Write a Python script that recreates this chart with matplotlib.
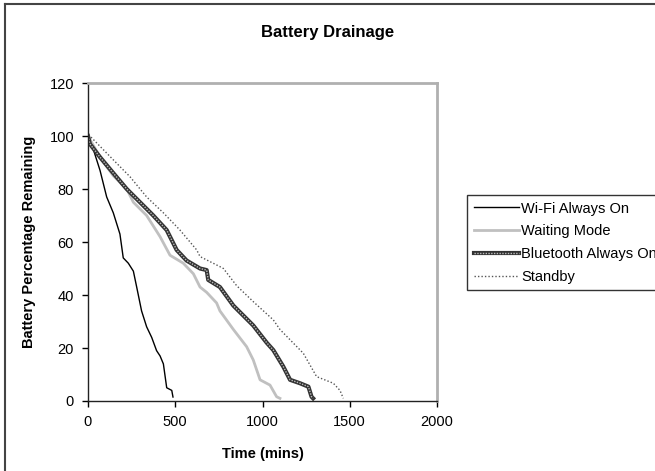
import matplotlib
matplotlib.use('Agg')
import matplotlib.pyplot as plt
from matplotlib.lines import Line2D

plt.rcParams['font.family'] = ['Liberation Sans', 'DejaVu Sans']

# time (mins) / battery %
wifi_t = [0, 11, 69, 107, 145, 183, 202, 231, 260, 279, 307, 336, 365, 393, 413, 432, 451, 480, 487]
wifi_v = [100, 99, 87, 77, 71, 63, 54, 52, 49, 43, 34, 28, 24, 19, 17, 14, 5, 4, 1.5]

wait_t = [0, 69, 145, 222, 260, 336, 413, 470, 546, 604, 642, 680, 737, 756, 833, 909, 947, 986, 1043, 1081, 1100]
wait_v = [100, 92, 85, 80, 75, 70, 62, 55, 52, 48, 43, 41, 37, 34, 27, 20.5, 15.5, 8, 6, 1.6, 1]

bt_t = [0, 11, 69, 145, 222, 298, 374, 451, 508, 565, 642, 680, 689, 756, 833, 947, 1024, 1062, 1119, 1158, 1215, 1263, 1281, 1290]
bt_v = [100, 97, 92, 86, 80, 75, 70, 64.5, 57, 53, 50, 49.4, 45.7, 43, 36, 28.5, 22, 19.2, 13, 8, 6.7, 5.4, 1.6, 1]

sb_t = [0, 11, 145, 241, 336, 432, 527, 623, 642, 756, 776, 852, 947, 1062, 1100, 1234, 1310, 1406, 1444, 1463]
sb_v = [100, 100, 91, 84.6, 77, 71, 64.5, 57, 54.5, 50.7, 50, 43.5, 37.5, 30.6, 27, 18, 9.2, 6.7, 4, 1]

fig = plt.figure(figsize=(6.55, 4.71), dpi=100)
ax = fig.add_axes([88 / 655, 1 - 401 / 471, 349 / 655, 318 / 471])

l1, = ax.plot(wifi_t, wifi_v, color='black', lw=1)
l2, = ax.plot(wait_t, wait_v, color='#c0c0c0', lw=2)
l3a, = ax.plot(bt_t, bt_v, color='#333333', lw=3)
l3b, = ax.plot(bt_t, bt_v, color='#bbbbbb', lw=1, linestyle=(0, (1, 1)))
l4, = ax.plot(sb_t, sb_v, color='#555555', lw=1, linestyle=(0, (1, 1.5)))

ax.set_xlim(0, 2000)
ax.set_ylim(0, 120)
ax.set_xticks(range(0, 2001, 500))
ax.set_yticks(range(0, 121, 20))
ax.tick_params(direction='out', length=4, width=1, labelsize=10.5, colors='black')
ax.tick_params(axis='x', pad=6)
ax.tick_params(axis='y', pad=6)
for s in ['left', 'bottom']:
    ax.spines[s].set_color('#222222')
    ax.spines[s].set_linewidth(1)
for s in ['top', 'right']:
    ax.spines[s].set_color('#b0b0b0')
    ax.spines[s].set_linewidth(2)

ax.set_xlabel('Time (mins)', fontsize=10.5, fontweight='bold', labelpad=13)
ax.set_ylabel('Battery Percentage Remaining', fontsize=10.5, fontweight='bold', labelpad=10)
fig.text(0.5, 1 - 33 / 471, 'Battery Drainage', ha='center', va='center',
         fontsize=12, fontweight='bold')

leg = fig.legend([l1, l2, (l3a, l3b), l4],
                 ['Wi-Fi Always On', 'Waiting Mode', 'Bluetooth Always On', 'Standby'],
                 loc='upper left', bbox_to_anchor=(467 / 655, 1 - 195 / 471),
                 fontsize=10.5, frameon=True, fancybox=False, handlelength=3.1,
                 handletextpad=0.15, borderpad=0.45, labelspacing=0.6, borderaxespad=0)
leg.get_frame().set_edgecolor('black')
leg.get_frame().set_linewidth(1)

# outer chart frame
fig.add_artist(Line2D([5 / 655, 5 / 655], [0, 1 - 4 / 471], color='#444444', lw=1.5))
fig.add_artist(Line2D([5 / 655, 1], [1 - 4 / 471, 1 - 4 / 471], color='#444444', lw=1.5))

fig.savefig('out.png', dpi=100)
